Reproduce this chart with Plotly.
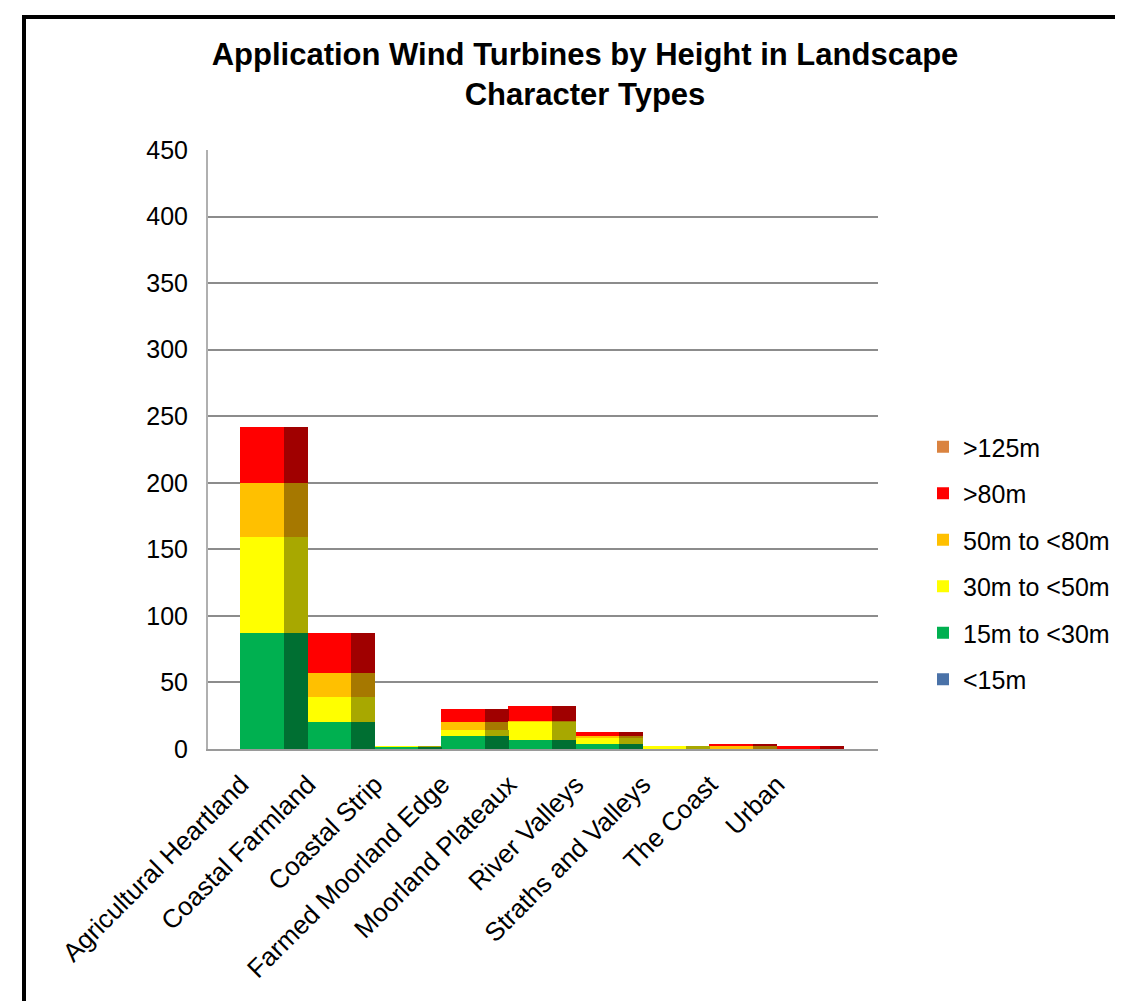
import plotly.graph_objects as go

categories = ["Agricultural Heartland", "Coastal Farmland", "Coastal Strip",
              "Farmed Moorland Edge", "Moorland Plateaux", "River Valleys",
              "Straths and Valleys", "The Coast", "Urban"]

lt15 = [0, 0, 0, 0, 0, 0, 0, 0, 0]
m15_30 = [87, 20, 1, 10, 7, 4, 0, 0, 0]
m30_50 = [72, 19, 1, 4, 13, 4, 2, 0, 0]
m50_80 = [41, 18, 0, 6, 1, 2, 0, 2, 0]
gt80 = [42, 30, 0, 10, 11, 3, 0, 2, 2]
gt125 = [0, 0, 0, 0, 0, 0, 0, 0, 0]

series_names = ["<15m", "15m to <30m", "30m to <50m", "50m to <80m", ">80m", ">125m"]
series_values = [lt15, m15_30, m30_50, m50_80, gt80, gt125]
front_colors = ["#4A72A8", "#00B050", "#FFFF00", "#FFC000", "#FF0000", "#DA8340"]
side_colors = ["#2C4468", "#006F32", "#A8A800", "#A67800", "#A00000", "#8A5229"]

FONT = "Arial, Liberation Sans, sans-serif"

# geometry (in category units)
front_off, front_w = -0.015, 0.657
side_off, side_w = 0.642, 0.358

# stacking bases (bottom series first)
bases = []
running = [0] * len(categories)
for vals in series_values:
    bases.append(list(running))
    running = [b + v for b, v in zip(running, vals)]

fig = go.Figure()
# add top series first so the legend lists >125m at the top
for i in reversed(range(len(series_names))):
    name, vals = series_names[i], series_values[i]
    fig.add_trace(go.Bar(
        x=categories, y=vals, base=bases[i], name=name,
        marker=dict(color=front_colors[i], line=dict(width=0)),
        offset=front_off, width=front_w,
        legendgroup=name, showlegend=True,
    ))
    fig.add_trace(go.Bar(
        x=categories, y=vals, base=bases[i], name=name,
        marker=dict(color=side_colors[i], line=dict(width=0)),
        offset=side_off, width=side_w,
        legendgroup=name, showlegend=False,
    ))

# page body has an 8px margin: figure coords = screen coords - 8
OFF = 8
W, H = 1123, 1001
L, R, T, B = 208 - OFF, 878 - OFF, 150 - OFF, 749 - OFF

def px_to_paper_x(px):
    return (px - OFF - L) / (R - L)

def px_to_paper_y(py):
    return (B - (py - OFF)) / (B - T)

fig.update_layout(
    width=W, height=H,
    margin=dict(l=L, r=W - R, t=T, b=H - B, pad=0),
    paper_bgcolor="white", plot_bgcolor="white",
    barmode="overlay", bargap=0,
    font=dict(family=FONT, size=25, color="black"),
    title=dict(
        text="<b>Application Wind Turbines by Height in Landscape<br>Character Types</b>",
        x=(585 - OFF) / W, xanchor="center", y=1 - 57 / H, yanchor="top",
        font=dict(family=FONT, size=31, color="black"),
    ),
    xaxis=dict(
        type="category", range=[-0.4925, 9.507],
        tickangle=-45, showgrid=False, ticks="", ticklabelstandoff=8,
        showline=True, linecolor="#9a9a9a", linewidth=2,
        tickfont=dict(family=FONT, size=26, color="black"),
        fixedrange=True,
    ),
    yaxis=dict(
        range=[0, 450], dtick=50, showgrid=True, gridcolor="#8c8c8c", gridwidth=2,
        showline=True, linecolor="#b0b0b0", linewidth=2, zeroline=False,
        ticks="", ticklabelstandoff=13,
        tickfont=dict(family=FONT, size=25, color="black"),
    ),
    legend=dict(
        x=px_to_paper_x(923), xanchor="left", y=px_to_paper_y(424), yanchor="top",
        traceorder="grouped", tracegroupgap=11,
        font=dict(family=FONT, size=25, color="black"),
        bgcolor="rgba(0,0,0,0)",
    ),
    shapes=[dict(
        type="rect", xref="paper", yref="paper",
        x0=px_to_paper_x(24), x1=px_to_paper_x(1150),
        y0=px_to_paper_y(1030), y1=px_to_paper_y(17),
        line=dict(color="black", width=4), fillcolor="rgba(0,0,0,0)", layer="above",
    )],
)

fig.write_html("out.html")
